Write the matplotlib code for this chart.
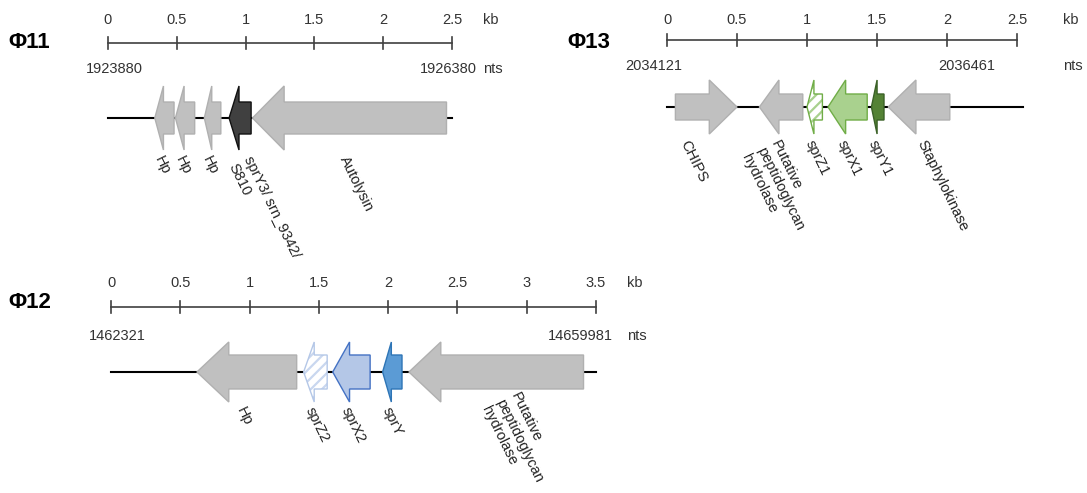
import matplotlib
matplotlib.use("Agg")
import matplotlib.pyplot as plt
from matplotlib.patches import Polygon

plt.rcParams['font.family'] = ['Liberation Sans', 'DejaVu Sans']
plt.rcParams['hatch.linewidth'] = 1.6

# ---- data (gene coordinates in kb from the start of each region) ----
phi11_start = [0.34, 0.49, 0.70, 0.88, 1.05]
phi11_end = [0.48, 0.63, 0.82, 1.04, 2.46]
phi11_strand = [-1, -1, -1, -1, -1]
phi11_names = ['Hp', 'Hp', 'Hp', 'sprY3/ srn_9342/\nS810', 'Autolysin']
phi11_kind = ['other', 'other', 'other', 'sprY', 'other']
phi11_nts = ['1923880', '1926380']
phi11_ticks = [0, 0.5, 1, 1.5, 2, 2.5]

phi13_start = [0.06, 0.66, 1.00, 1.15, 1.46, 1.58]
phi13_end = [0.50, 0.97, 1.11, 1.43, 1.55, 2.02]
phi13_strand = [1, -1, -1, -1, -1, -1]
phi13_names = ['CHIPS', 'Putative\npeptidoglycan\nhydrolase', 'sprZ1', 'sprX1', 'sprY1', 'Staphylokinase']
phi13_kind = ['other', 'other', 'sprZ', 'sprX', 'sprY', 'other']
phi13_nts = ['2034121', '2036461']
phi13_ticks = [0, 0.5, 1, 1.5, 2, 2.5]

phi12_start = [0.62, 1.39, 1.60, 1.96, 2.15]
phi12_end = [1.34, 1.56, 1.87, 2.10, 3.41]
phi12_strand = [-1, -1, -1, -1, -1]
phi12_names = ['Hp', 'sprZ2', 'sprX2', 'sprY', 'Putative\npeptidoglycan\nhydrolase']
phi12_kind = ['other', 'sprZ', 'sprX', 'sprY', 'other']
phi12_nts = ['1462321', '14659981']
phi12_ticks = [0, 0.5, 1, 1.5, 2, 2.5, 3, 3.5]

# ---- styles ----
grey = ('#c0c0c0', '#b0b0b0', None)
styles = {
    'Φ11': {'other': grey, 'sprY': ('#404040', '#111111', None)},
    'Φ13': {'other': grey, 'sprZ': ('white', '#70ad47', '#a9d18e'),
            'sprX': ('#a9d18e', '#70ad47', None), 'sprY': ('#548235', '#3b6127', None)},
    'Φ12': {'other': grey, 'sprZ': ('white', '#b4c7e7', '#c9d7ef'),
            'sprX': ('#b4c7e7', '#4472c4', None), 'sprY': ('#5b9bd5', '#2e75b6', None)},
}

W, H = 1087, 493
fig = plt.figure(figsize=(W / 100, H / 100), dpi=100)
txt = '#333333'
fs = 10.5


def panel(title, x0, x1, span, start, end, strand, names, kind, nts, ticks,
          title_xy, tick_y, scale_y, nts_y, line_y, line_end, hh, bh,
          nts_dx, unit_dx, lab_dy, nudges):
    ax = fig.add_axes([x0 / W, 0, (x1 - x0) / W, 1])
    ax.set_xlim(0, span)
    ax.set_ylim(H, 0)
    ax.axis('off')
    k = (x1 - x0) / span  # px per kb
    st = styles[title]

    fig.text(title_xy[0] / W, 1 - title_xy[1] / H, title, fontsize=16,
             fontweight='bold', va='center', ha='left', color='black')

    # scale bar
    ax.plot([0, span], [scale_y, scale_y], color='#404040', lw=1.2, clip_on=False)
    for t in ticks:
        ax.plot([t, t], [scale_y - 6, scale_y + 6], color='#404040', lw=1.2, clip_on=False)
        ax.text(t, tick_y, f'{t:g}', ha='center', va='center', fontsize=fs, color=txt)
    ax.text(span + unit_dx / k, tick_y, 'kb', ha='left', va='center', fontsize=fs, color=txt)
    ax.text(nts_dx[0] / k, nts_y, nts[0], ha='center', va='center', fontsize=fs, color=txt)
    ax.text(span + nts_dx[1] / k, nts_y, nts[1], ha='center', va='center', fontsize=fs, color=txt)
    ax.text(span + unit_dx / k, nts_y, 'nts', ha='left', va='center', fontsize=fs, color=txt)

    # genomic line
    ax.plot([0, line_end], [line_y, line_y], color='black', lw=1.5, clip_on=False, zorder=1)

    for i in range(len(start)):
        a, b = start[i], end[i]
        head = min(0.45 * (b - a), 0.23)
        if strand[i] < 0:
            pts = [(a, line_y), (a + head, line_y - hh), (a + head, line_y - bh),
                   (b, line_y - bh), (b, line_y + bh), (a + head, line_y + bh),
                   (a + head, line_y + hh)]
        else:
            pts = [(b, line_y), (b - head, line_y - hh), (b - head, line_y - bh),
                   (a, line_y - bh), (a, line_y + bh), (b - head, line_y + bh),
                   (b - head, line_y + hh)]
        fc, ec, hc = st[kind[i]]
        if hc is not None:
            ax.add_patch(Polygon(pts, closed=True, facecolor=fc, edgecolor=hc,
                                 hatch='///', lw=0, zorder=2))
            ax.add_patch(Polygon(pts, closed=True, facecolor='none', edgecolor=ec,
                                 lw=1.0, zorder=3))
        else:
            ax.add_patch(Polygon(pts, closed=True, facecolor=fc, edgecolor=ec,
                                 lw=1.0, zorder=2))
        ndx, ndy = nudges.get(i, (0, 0))
        cx = (a + b) / 2 + ndx / k
        ax.text(cx, line_y + hh + lab_dy + ndy, names[i], rotation=-64,
                rotation_mode='anchor', ha='left', va='top', fontsize=fs,
                color='#222222', linespacing=1.2)


panel('Φ11', 108, 452, 2.5, phi11_start, phi11_end, phi11_strand, phi11_names,
      phi11_kind, phi11_nts, phi11_ticks, title_xy=(8, 42), tick_y=20, scale_y=43,
      nts_y=69, line_y=118, line_end=2.5, hh=32, bh=16, nts_dx=(6, -4),
      unit_dx=31, lab_dy=4, nudges={3: (13, 0)})

panel('Φ13', 667, 1017, 2.5, phi13_start, phi13_end, phi13_strand, phi13_names,
      phi13_kind, phi13_nts, phi13_ticks, title_xy=(567, 42), tick_y=20, scale_y=40,
      nts_y=66, line_y=107, line_end=2.54, hh=27, bh=13, nts_dx=(-13, -50),
      unit_dx=46, lab_dy=4, nudges={0: (-16, 0), 5: (8, 0)})

panel('Φ12', 111, 596, 3.5, phi12_start, phi12_end, phi12_strand, phi12_names,
      phi12_kind, phi12_nts, phi12_ticks, title_xy=(8, 302), tick_y=283, scale_y=307,
      nts_y=336, line_y=372, line_end=3.5, hh=30, bh=17, nts_dx=(6, -16),
      unit_dx=31, lab_dy=3, nudges={4: (24, -15)})

fig.savefig('out.png', dpi=100, facecolor='white')
